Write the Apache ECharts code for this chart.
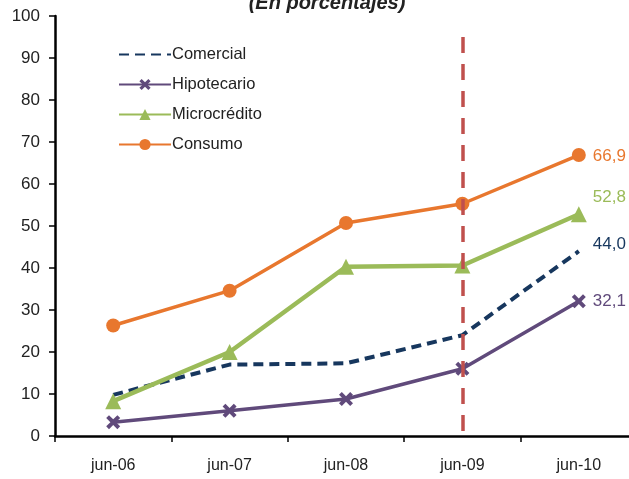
<!DOCTYPE html>
<html>
<head>
<meta charset="utf-8">
<script src="https://cdn.jsdelivr.net/npm/echarts@6/dist/echarts.min.js"></script>
<style>
  html, body { margin: 0; padding: 0; background: #fff; }
  #chart { width: 629px; height: 479px; }
</style>
</head>
<body>
<div id="chart"></div>
<script>
  // datos
  var meses = ['jun-06', 'jun-07', 'jun-08', 'jun-09', 'jun-10'];
  var comercial = [9.8, 17.0, 17.3, 24.0, 44.0];
  var hipotecario = [3.3, 6.0, 8.8, 16.0, 32.1];
  var microcredito = [8.3, 20.0, 40.3, 40.6, 52.8];
  var consumo = [26.3, 34.6, 50.7, 55.3, 66.9];
  var yTicks = [0, 10, 20, 30, 40, 50, 60, 70, 80, 90, 100];

  var font = 'Liberation Sans, Arial, sans-serif';
  var crossPath = 'path://M2,0 L5,3 L8,0 L10,2 L7,5 L10,8 L8,10 L5,7 L2,10 L0,8 L3,5 L0,2 Z';

  function endLabel(color, dy) {
    return {
      show: true,
      formatter: function (p) {
        return p.value.toFixed(1).replace('.', ',');
      },
      color: color,
      fontSize: 17,
      fontFamily: font,
      distance: 14,
      offset: [0, dy || 0]
    };
  }

  var myChart = echarts.init(document.getElementById('chart'));
  myChart.setOption({
    animation: false,
    title: {
      text: '(En porcentajes)',
      left: 322,
      top: -12,
      textAlign: 'center',
      textStyle: {
        fontSize: 20,
        fontWeight: 'bold',
        fontStyle: 'italic',
        fontFamily: font,
        color: '#222'
      }
    },
    legend: {
      left: 113,
      top: 41,
      orient: 'vertical',
      itemWidth: 52,
      itemHeight: 14,
      itemGap: 13,
      textStyle: { fontSize: 16.5, fontFamily: font, color: '#222', padding: [0, 0, 0, -4] },
      data: [
        { name: 'Comercial', itemStyle: { opacity: 0 } },
        'Hipotecario', 'Microcrédito', 'Consumo'
      ]
    },
    grid: {
      left: 55,
      top: 16,
      width: 582,
      height: 420,
      outerBoundsMode: 'none',
      containLabel: false
    },
    xAxis: {
      type: 'category',
      data: meses,
      boundaryGap: true,
      axisLine: { lineStyle: { color: '#000', width: 2.5 } },
      axisTick: { show: true, length: 6, lineStyle: { color: '#000', width: 1.5 } },
      axisLabel: { fontSize: 16, fontFamily: font, color: '#222', margin: 22 },
      splitLine: { show: false }
    },
    yAxis: {
      type: 'value',
      min: yTicks[0],
      max: yTicks[yTicks.length - 1],
      interval: 10,
      axisLine: { show: true, lineStyle: { color: '#000', width: 2.5 } },
      axisTick: { show: true, length: 6, lineStyle: { color: '#000', width: 1.5 } },
      axisLabel: { fontSize: 17, fontFamily: font, color: '#222', margin: 15 },
      splitLine: { show: false }
    },
    series: [
      {
        name: 'Comercial',
        type: 'line',
        data: comercial,
        symbol: 'none',
        itemStyle: { color: '#17375E' },
        lineStyle: { color: '#17375E', width: 4, type: [10, 6] },
        endLabel: endLabel('#17375E', -7),
        z: 3
      },
      {
        name: 'Hipotecario',
        type: 'line',
        data: hipotecario,
        symbol: crossPath,
        symbolSize: 14,
        itemStyle: { color: '#604A7B' },
        lineStyle: { color: '#604A7B', width: 3.5 },
        endLabel: endLabel('#604A7B', 0),
        z: 3
      },
      {
        name: 'Microcrédito',
        type: 'line',
        data: microcredito,
        symbol: 'triangle',
        symbolSize: 16,
        itemStyle: { color: '#9BBB59' },
        lineStyle: { color: '#9BBB59', width: 4.5 },
        endLabel: endLabel('#9BBB59', -17),
        z: 3
      },
      {
        name: 'Consumo',
        type: 'line',
        data: consumo,
        symbol: 'circle',
        symbolSize: 14,
        itemStyle: { color: '#E8772E' },
        lineStyle: { color: '#E8772E', width: 3.5 },
        endLabel: endLabel('#E8772E', 1),
        z: 3,
        markLine: {
          silent: true,
          symbol: 'none',
          label: { show: false },
          lineStyle: { color: '#C0504D', width: 3.5, type: [16, 11] },
          data: [[{ coord: ['jun-09', 95] }, { coord: ['jun-09', 0] }]]
        }
      }
    ]
  });
</script>
</body>
</html>
